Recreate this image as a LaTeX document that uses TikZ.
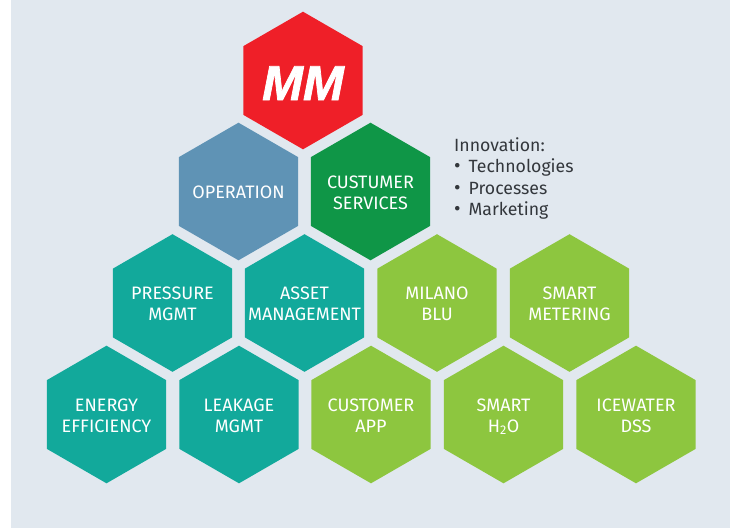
\documentclass[tikz,border=0pt]{standalone}
\usepackage{fontspec}
\setmainfont{Fira Sans}
\newfontfamily\mmfont{Liberation Sans}[BoldItalicFeatures={FakeBold=1.5}]
\usetikzlibrary{shapes.geometric}
\definecolor{bgc}{HTML}{E1E8EF}
\definecolor{redc}{HTML}{EF1F28}
\definecolor{bluec}{HTML}{5F93B5}
\definecolor{greenc}{HTML}{0F9647}
\definecolor{tealc}{HTML}{12A99B}
\definecolor{limec}{HTML}{8DC63F}
\definecolor{textc}{HTML}{33373C}
\newcommand\hxl[1]{\raisebox{-7.5pt}[0pt][0pt]{\makebox[0pt][c]{\begin{tabular}{@{}c@{}}#1\end{tabular}}}}
\newcommand\blt{\makebox[14.5pt][l]{\fontsize{20}{20}\selectfont •}}
\tikzset{x=1pt,y=-1pt,
  hexa/.style={regular polygon,regular polygon sides=6,shape border rotate=30,minimum size=137.6pt,inner sep=0pt,outer sep=0pt,
     text=white,font=\fontsize{18}{21}\selectfont,draw=none},
  hexred/.style={hexa,fill=redc},hexblue/.style={hexa,fill=bluec},hexgreen/.style={hexa,fill=greenc},
  hexteal/.style={hexa,fill=tealc},hexlime/.style={hexa,fill=limec}}
\begin{document}
\begin{tikzpicture}
\useasboundingbox (0,0) rectangle (733,528);
\fill[white] (0,0) rectangle (733,528);
\fill[bgc] (11,0) rectangle (730,528);
\node[hexred] (mm) at (303,80.5) {\raisebox{-19.5pt}[0pt][0pt]{\makebox[0pt][c]{\fontsize{49}{49}\selectfont\mmfont\bfseries\itshape MM}}};
\node[hexblue] (op) at (238.5,191.5) {\hxl{OPERATION}};
\node[hexgreen] (cs) at (370.5,191.5) {\hxl{CUSTUMER\\SERVICES}};
\node[hexteal] (pm) at (172.5,303) {\hxl{PRESSURE\\MGMT}};
\node[hexteal] (am) at (304.5,303) {\hxl{ASSET\\MANAGEMENT}};
\node[hexlime] (mb) at (437,303) {\hxl{MILANO\\BLU}};
\node[hexlime] (sm) at (569.5,303) {\hxl{SMART\\METERING}};
\node[hexteal] (ee) at (106.5,414.5) {\hxl{ENERGY\\EFFICIENCY}};
\node[hexteal] (lm) at (239,414.5) {\hxl{LEAKAGE\\MGMT}};
\node[hexlime] (ca) at (371,414.5) {\hxl{CUSTOMER\\APP}};
\node[hexlime] (sh) at (503.5,414.5) {\hxl{SMART\\H\textsubscript{2}O}};
\node[hexlime] (id) at (636,414.5) {\hxl{ICEWATER\\DSS}};
\node[anchor=north west,align=left,text=textc,font=\fontsize{17.7}{21.5}\selectfont,inner sep=0pt] (inn) at (454,137) {Innovation:\\\blt Technologies\\\blt Processes\\\blt Marketing};
\end{tikzpicture}
\end{document}
